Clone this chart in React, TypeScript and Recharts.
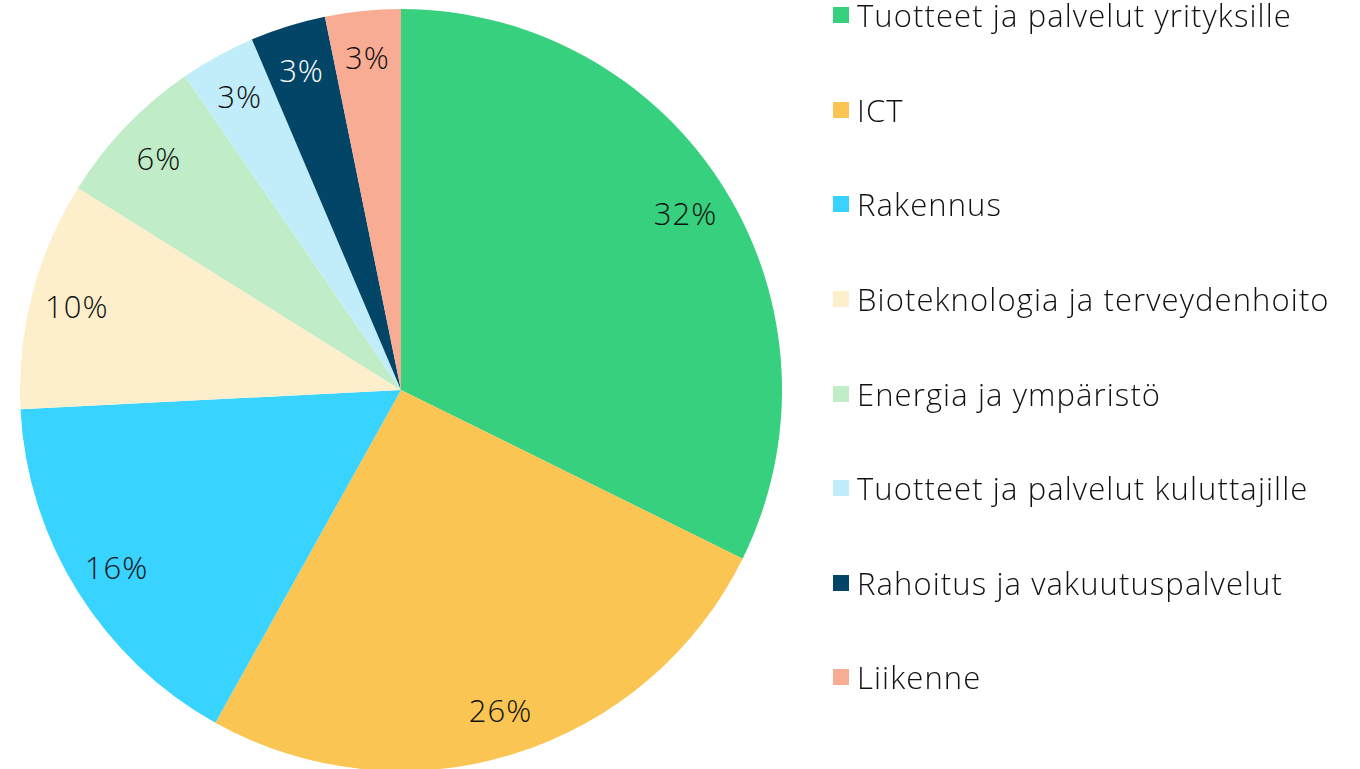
import { PieChart, Pie, Cell, Legend } from 'recharts';

const categories = [
  'Tuotteet ja palvelut yrityksille',
  'ICT',
  'Rakennus',
  'Bioteknologia ja terveydenhoito',
  'Energia ja ympäristö',
  'Tuotteet ja palvelut kuluttajille',
  'Rahoitus ja vakuutuspalvelut',
  'Liikenne',
];
const shares = [32.3, 25.8, 16.1, 9.7, 6.5, 3.2, 3.2, 3.2];
const labels = ['32%', '26%', '16%', '10%', '6%', '3%', '3%', '3%'];
const colors = ['#36D07E', '#FAC552', '#39D3FF', '#FDEFCB', '#C0EDC7', '#C1EDFB', '#034566', '#F8AC94'];
const labelColors = ['#111', '#111', '#111', '#111', '#111', '#111', '#fff', '#111'];

const data = categories.map((name, i) => ({ name, value: shares[i] }));

const FONT = '"Open Sans", Lato, sans-serif';
const RAD = Math.PI / 180;

const renderLabel = (props: any) => {
  const { cx, cy, midAngle, index } = props;
  const r = 335;
  const x = cx + r * Math.cos(-midAngle * RAD);
  const y = cy + r * Math.sin(-midAngle * RAD);
  return (
    <text
      x={x}
      y={y}
      fill={labelColors[index]}
      textAnchor="middle"
      dominantBaseline="central"
      fontSize={31}
      fontWeight={300}
      letterSpacing={1}
      fontFamily={FONT}
    >
      {labels[index]}
    </text>
  );
};

const renderLegend = () => (
  <div style={{ fontFamily: FONT }}>
    {categories.map((name, i) => (
      <div
        key={name}
        style={{ display: 'flex', alignItems: 'center', height: 94.6, marginTop: i === 0 ? -32 : 0 }}
      >
        <span style={{ width: 16, height: 16, background: colors[i], display: 'inline-block', marginRight: 8, flexShrink: 0 }} />
        <span style={{ fontSize: 31, lineHeight: '30px', fontWeight: 300, letterSpacing: 1.1, color: '#111', whiteSpace: 'nowrap' }}>
          {name}
        </span>
      </div>
    ))}
  </div>
);

export default function App() {
  return (
    <div style={{ position: 'fixed', top: 0, left: 0, width: 1360, height: 769, background: '#fff' }}>
      <PieChart width={1360} height={769} margin={{ top: 0, right: 0, bottom: 0, left: 0 }}>
        <Pie
          data={data}
          dataKey="value"
          nameKey="name"
          cx={401}
          cy={390}
          outerRadius={381}
          startAngle={90}
          endAngle={-270}
          stroke="none"
          labelLine={false}
          label={renderLabel}
          isAnimationActive={false}
        >
          {data.map((entry, i) => (
            <Cell key={entry.name} fill={colors[i]} />
          ))}
        </Pie>
        <Legend
          content={renderLegend}
          layout="vertical"
          verticalAlign="top"
          align="right"
          wrapperStyle={{ top: 0, left: 833, right: 'auto', width: 527 }}
        />
      </PieChart>
    </div>
  );
}
